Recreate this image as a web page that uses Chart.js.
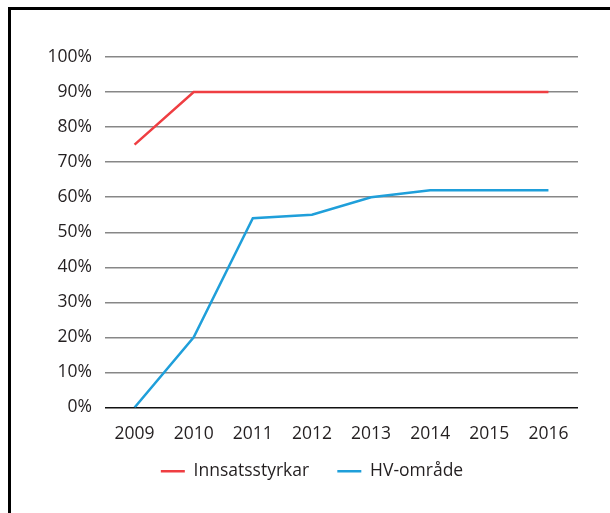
<!DOCTYPE html>
<html lang="no">
<head>
  <meta charset="UTF-8" />
  <title>Innsatsstyrkar og HV-område</title>
  <script src="https://cdn.jsdelivr.net/npm/chart.js"></script>
  <style>
    body { margin: 0; background: #ffffff; }
    .wrap { position: relative; width: 610px; height: 513px; overflow: hidden; }
    .frame {
      position: absolute;
      left: 8px;
      top: 7px;
      width: 700px;
      height: 700px;
      border-left: 3px solid #000;
      border-top: 3px solid #000;
      pointer-events: none;
    }
    canvas { position: absolute; left: 0; top: 0; }
  </style>
</head>
<body>
  <div class="wrap">
    <canvas id="chart" width="610" height="513"></canvas>
    <div class="frame"></div>
  </div>

<script>
  const years = ['2009', '2010', '2011', '2012', '2013', '2014', '2015', '2016'];
  const innsatsstyrkar = [75, 90, 90, 90, 90, 90, 90, 90];
  const hvOmraade = [0, 20, 54, 55, 60, 62, 62, 62];
  const yTicks = [0, 10, 20, 30, 40, 50, 60, 70, 80, 90, 100];

  const textColor = '#231f20';
  const font = { family: "'Open Sans', sans-serif", size: 17.5 };

  // legend padding is also the vertical gap, so widen the gap between items with trailing spaces
  const legendGap = '    ';

  new Chart(document.getElementById('chart'), {
    type: 'line',
    data: {
      labels: years,
      datasets: [
        {
          label: 'Innsatsstyrkar',
          data: innsatsstyrkar,
          borderColor: '#ef3e42',
          backgroundColor: '#ef3e42',
          borderWidth: 2.5,
          pointRadius: 0,
          tension: 0
        },
        {
          label: 'HV-område',
          data: hvOmraade,
          borderColor: '#1f9fda',
          backgroundColor: '#1f9fda',
          borderWidth: 2.5,
          pointRadius: 0,
          tension: 0
        }
      ]
    },
    options: {
      responsive: false,
      animation: false,
      layout: { padding: { top: 57, right: 32, left: 46, bottom: 23 } },
      plugins: {
        tooltip: { enabled: false },
        legend: {
          position: 'bottom',
          labels: {
            color: textColor,
            font: font,
            usePointStyle: true,
            pointStyle: 'line',
            pointStyleWidth: 24,
            padding: 10,
            generateLabels: chart => {
              const items = Chart.defaults.plugins.legend.labels.generateLabels(chart);
              items.forEach((it, i) => { if (i < items.length - 1) it.text += legendGap; });
              return items;
            }
          }
        }
      },
      scales: {
        x: {
          offset: true,
          grid: { display: false, drawTicks: false },
          border: { display: false },
          ticks: { color: textColor, font: font, padding: 16, maxRotation: 0 },
          afterFit: s => { s.height = 45; }
        },
        y: {
          min: 0,
          max: 100,
          afterBuildTicks: s => { s.ticks = yTicks.map(v => ({ value: v })); },
          grid: {
            drawTicks: false,
            lineWidth: 1.5,
            color: c => (c.tick && c.tick.value === 0) ? '#111111' : '#878787'
          },
          border: { display: false },
          ticks: {
            color: textColor,
            font: font,
            padding: 13,
            callback: v => v + '%'
          },
          afterFit: s => { s.width = 59; }
        }
      }
    }
  });
</script>
</body>
</html>
